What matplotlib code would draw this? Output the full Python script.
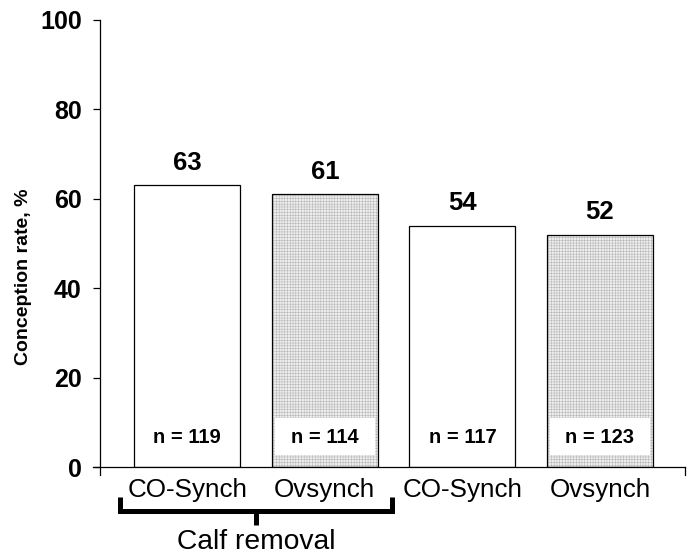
import matplotlib.pyplot as plt

plt.rcParams['font.family'] = ['Liberation Sans', 'DejaVu Sans']
plt.rcParams['hatch.linewidth'] = 0.35

groups = ["CO-Synch", "Ovsynch", "CO-Synch", "Ovsynch"]
rates = [63, 61, 54, 52]
n_labels = ["n = 119", "n = 114", "n = 117", "n = 123"]
shaded = [False, True, False, True]

fig = plt.figure(figsize=(6.92, 5.54), dpi=100)
ax = fig.add_axes([0.1344, 0.157, 0.8555, 0.807])

x = list(range(len(rates)))
w = 0.77
for xi, r, s in zip(x, rates, shaded):
    if s:
        # light grey mesh fill
        ax.bar(xi, r, width=w, color="#ededed", edgecolor="#b4b4b4",
               linewidth=0, hatch="++++++")
        ax.bar(xi, 8.3, bottom=2.7, width=w - 0.04, color="white", linewidth=0)
    ax.bar(xi, r, width=w, facecolor="none" if s else "white",
           edgecolor="black", linewidth=0.9)

for xi, r, n in zip(x, rates, n_labels):
    ax.annotate(str(r), (xi, r), xytext=(0, 7.5), textcoords="offset points",
                ha="center", va="bottom", fontsize=18.5, fontweight="bold")
    ax.text(xi, 6.7, n, ha="center", va="center", fontsize=14.5, fontweight="bold")

ax.set_xlim(-0.685, 3.618)
ax.set_ylim(0, 100)
ax.spines["top"].set_visible(False)
ax.spines["right"].set_visible(False)
ax.spines["left"].set_position(("data", -0.636))
ax.spines["left"].set_linewidth(0.9)
ax.spines["bottom"].set_linewidth(0.9)
ax.set_yticks([0, 20, 40, 60, 80, 100])
ax.tick_params(axis="y", labelsize=18, length=5, width=0.9, pad=8)
for t in ax.get_yticklabels():
    t.set_fontweight("bold")
ax.set_xticks(x)
ax.set_xticklabels(groups, fontsize=18.7)
ax.tick_params(axis="x", length=0, pad=8)
ax.set_ylabel("Conception rate, %", fontsize=14, fontweight="bold")
ax.yaxis.set_label_coords(-0.103, 0.425)

# small overhangs of the axis lines
trans = ax.get_xaxis_transform()
ax.plot([-0.636, -0.636], [0, -0.018], transform=trans, color="black",
        linewidth=0.9, clip_on=False)
ax.plot([3.618, 3.618], [0, -0.018], transform=trans, color="black",
        linewidth=0.9, clip_on=False)

# bracket under the calf removal groups
ax.plot([-0.49, -0.49, 1.49, 1.49], [-0.067, -0.098, -0.098, -0.067],
        transform=trans, color="black", linewidth=3.6, clip_on=False,
        solid_capstyle="butt", solid_joinstyle="miter")
ax.plot([0.5, 0.5], [-0.098, -0.13], transform=trans, color="black",
        linewidth=3.6, clip_on=False, solid_capstyle="butt")
ax.text(0.5, -0.184, "Calf removal", transform=trans, ha="center", va="baseline",
        fontsize=20.3)

fig.savefig("out.png", dpi=100)
